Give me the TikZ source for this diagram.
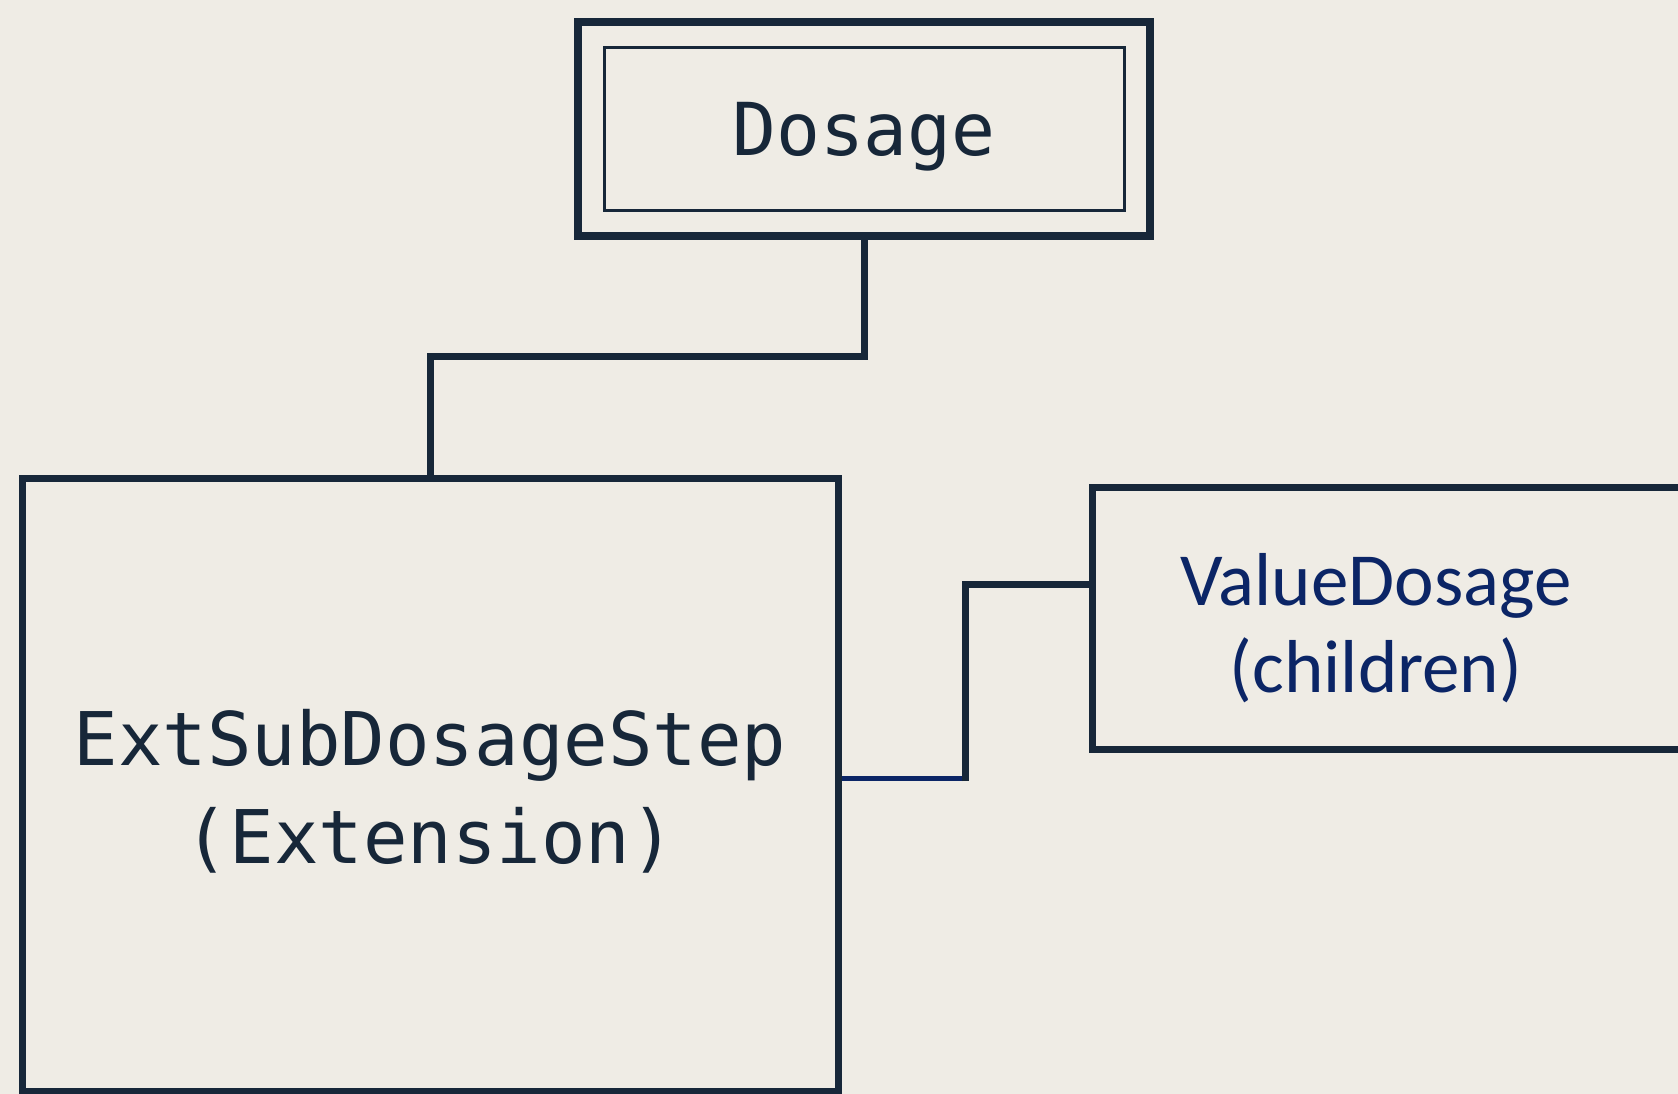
\documentclass[tikz,border=0pt]{standalone}
\usepackage{fontspec}
\usepackage{xcolor}
\usepackage{tikz}
\newfontfamily\monofont{DejaVu Sans Mono}
\newfontfamily\bodyfont{Carlito}
\definecolor{paper}{HTML}{EFECE5}
\definecolor{ink}{HTML}{172739}
\definecolor{navy}{HTML}{0B2566}
\tikzset{
    box/.style={draw=ink, inner sep=0pt, line width=7pt},
    label/.style={inner sep=0pt, align=center},
    link/.style={draw=ink, line width=7pt}
}

\begin{document}
\begin{tikzpicture}[x=1pt, y=-1pt]
    \fill [paper] (0,0) rectangle (1678,1094);
    \clip (0,0) rectangle (1678,1094);
    % boxes
    \node (dosage) [box, line width=8pt, minimum width=572pt, minimum height=214pt] at (864,129) {};
    \node (dosagein) [box, line width=3pt, minimum width=520pt, minimum height=163pt] at (864,129.5) {};
    \node (ext) [box, minimum width=816pt, minimum height=613pt] at (430,784.5) {};
    \node (value) [box, minimum width=620pt, minimum height=262pt] at (1402,618) {};
    % texts
    \node (dosagetext) [label, text=ink, font=\monofont\fontsize{73}{90}\selectfont] at (864,137) {Dosage};
    \node (exttext) [label, text=ink, font=\monofont\fontsize{74}{98}\selectfont] at (430,791) {ExtSubDosageStep\\(Extension)};
    \node (valuetext) [label, text=navy, font=\bodyfont\fontsize{75}{87}\selectfont] at (1376,628) {ValueDosage\\(children)};
    % links
    \draw [link] (dosage.south) -- ++(0,116.5) -| (ext.north);
    \draw [link, draw=navy, line width=5pt] ([yshift=6pt]ext.east) -- ++(124,0) coordinate (knee);
    \draw [link] ([yshift=-2.5pt]knee) |- ([yshift=34pt]value.west);
\end{tikzpicture}
\end{document}
